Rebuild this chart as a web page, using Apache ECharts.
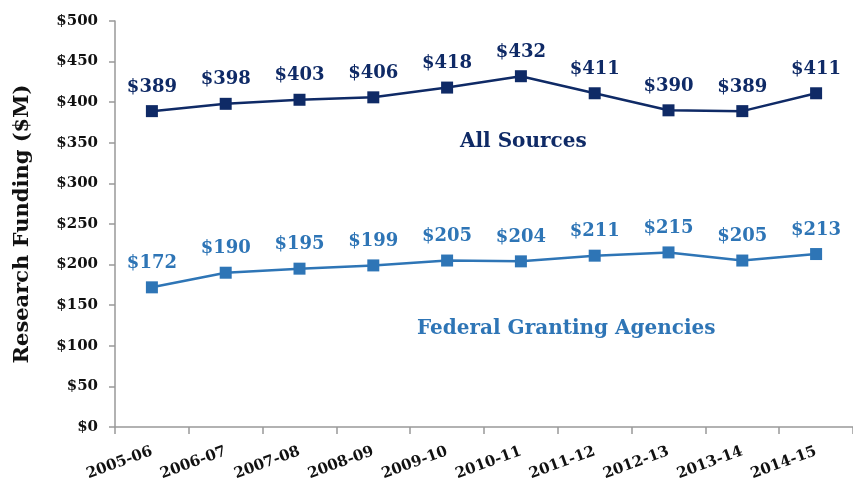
<!DOCTYPE html>
<html>
<head>
<meta charset="utf-8">
<script src="https://cdn.jsdelivr.net/npm/echarts@6/dist/echarts.min.js"></script>
<style>
html, body { margin: 0; padding: 0; background: #ffffff; }
#main { width: 853px; height: 485px; }
</style>
</head>
<body>
<div id="main"></div>
<script>
// 数据
var years = ['2005-06', '2006-07', '2007-08', '2008-09', '2009-10',
	'2010-11', '2011-12', '2012-13', '2013-14', '2014-15'];
var allSources = [389, 398, 403, 406, 418, 432, 411, 390, 389, 411];
var federalAgencies = [172, 190, 195, 199, 205, 204, 211, 215, 205, 213];

var navy = '#0f2a66';
var lightBlue = '#2e75b6';
var serif = '"DejaVu Serif", "Liberation Serif", serif';

var chart = echarts.init(document.getElementById('main'));

function lineSeries(name, data, color) {
	return {
		name: name,
		type: 'line',
		data: data,
		symbol: 'rect',
		symbolSize: 12,
		lineStyle: {width: 2.5, color: color},
		itemStyle: {color: color},
		label: {
			show: true,
			position: 'top',
			distance: 9,
			formatter: function (p) {
				return '{v|$' + p.value + '}';
			},
			rich: {
				v: {
					color: color,
					fontFamily: serif,
					fontWeight: 'bold',
					fontSize: 18
				}
			}
		}
	};
}

var option = {
	backgroundColor: '#ffffff',
	animation: false,
	grid: {
		left: 115,
		right: 0,
		top: 21,
		bottom: 58
	},
	xAxis: {
		type: 'category',
		data: years,
		boundaryGap: true,
		axisLine: {lineStyle: {color: '#999999', width: 1.5}},
		axisTick: {show: true, length: 7, lineStyle: {color: '#999999', width: 1.5}},
		axisLabel: {
			rotate: 20,
			margin: 24,
			color: '#111111',
			fontFamily: serif,
			fontWeight: 'bold',
			fontSize: 15
		}
	},
	yAxis: {
		type: 'value',
		min: 0,
		max: 500,
		interval: 50,
		name: 'Research Funding ($M)',
		nameLocation: 'middle',
		nameGap: 82,
		nameTextStyle: {
			color: '#111111',
			fontFamily: serif,
			fontWeight: 'bold',
			fontSize: 21
		},
		splitLine: {show: false},
		axisLine: {show: true, lineStyle: {color: '#999999', width: 1.5}},
		axisTick: {show: true, length: 6, lineStyle: {color: '#999999', width: 1.5}},
		axisLabel: {
			formatter: '${value}',
			margin: 17,
			color: '#111111',
			fontFamily: serif,
			fontWeight: 'bold',
			fontSize: 15
		}
	},
	graphic: [
		{
			type: 'text',
			left: 460,
			top: 132,
			style: {
				text: 'All Sources',
				fill: navy,
				font: 'bold 20px ' + serif
			}
		},
		{
			type: 'text',
			left: 417,
			top: 319,
			style: {
				text: 'Federal Granting Agencies',
				fill: lightBlue,
				font: 'bold 20px ' + serif
			}
		}
	],
	series: [
		lineSeries('All Sources', allSources, navy),
		lineSeries('Federal Granting Agencies', federalAgencies, lightBlue)
	]
};

chart.setOption(option);
</script>
</body>
</html>
